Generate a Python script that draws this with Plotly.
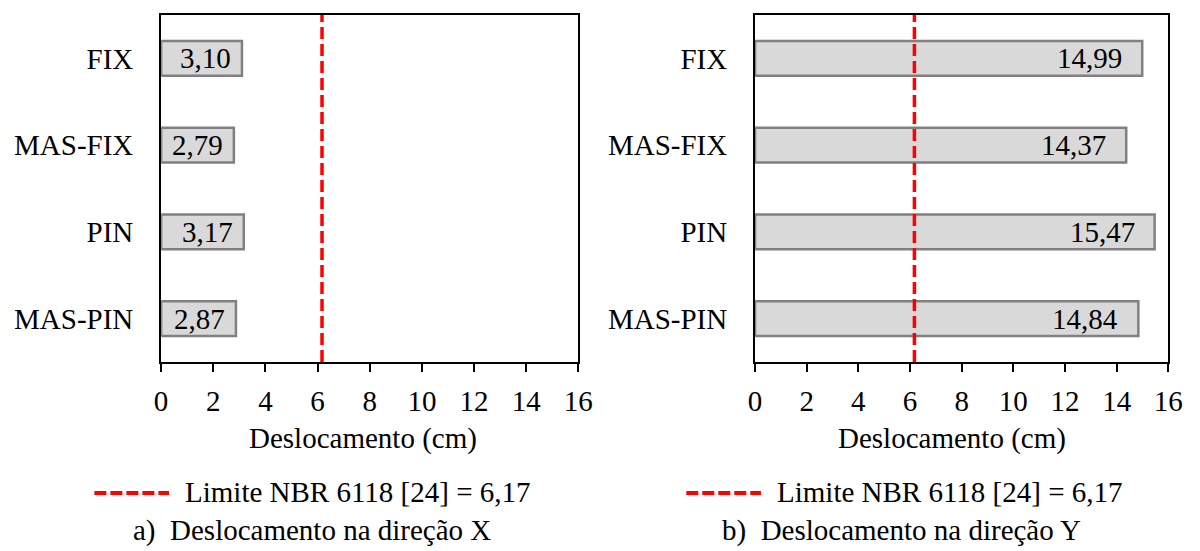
import plotly.graph_objects as go

# Support conditions (top to bottom) and peak displacements in cm
categories = ["FIX", "MAS-FIX", "PIN", "MAS-PIN"]
disp_x = [3.10, 2.79, 3.17, 2.87]
disp_y = [14.99, 14.37, 15.47, 14.84]
limit_value = 6.17
x_tick_values = [0, 2, 4, 6, 8, 10, 12, 14, 16]

axis_title = "Deslocamento (cm)"
limit_label = "Limite NBR 6118 [24] = 6,17"
captions = ["a)\u00a0 Deslocamento na direção X", "b)\u00a0 Deslocamento na direção Y"]

FONT = "Liberation Serif, Times New Roman, serif"
FS = 29
W, H = 1200, 551


def px_x(p):
    return p / W


def px_y(p):
    return 1 - p / H


def br(v):
    return f"{v:.2f}".replace(".", ",")


panels = [
    dict(values=disp_x, xa="x", ya="y", dom=(157, 582), shift=-9,
         title_x=363, legend_x=89, caption_x=311),
    dict(values=disp_y, xa="x2", ya="y2", dom=(762, 1183), shift=-18,
         title_x=963, legend_x=692, caption_x=911),
]

fig = go.Figure()
annotations = []
shapes = []

for p in panels:
    fig.add_trace(go.Bar(
        x=p["values"], y=categories, orientation="h",
        xaxis=p["xa"], yaxis=p["ya"], width=0.4,
        marker=dict(color="#d9d9d9", line=dict(color="#808080", width=2.5)),
        hoverinfo="x+y", showlegend=False,
    ))
    # value labels at the inner end of each bar
    for cat, v in zip(categories, p["values"]):
        annotations.append(dict(
            x=v, y=cat, xref=p["xa"], yref=p["ya"], text=br(v),
            xanchor="right", yanchor="middle", xshift=p["shift"],
            showarrow=False, font=dict(family=FONT, size=FS, color="black"),
        ))
    # code limit line
    shapes.append(dict(
        type="line", xref=p["xa"], yref=f"{p['ya']} domain",
        x0=limit_value, x1=limit_value, y0=0, y1=1,
        line=dict(color="#ff0000", width=3.5, dash="12px,5px"), layer="above",
    ))
    # legend key for the limit line
    shapes.append(dict(
        type="line", xref="paper", yref="paper",
        x0=px_x(p["legend_x"]), x1=px_x(p["legend_x"] + 76),
        y0=px_y(493), y1=px_y(493),
        line=dict(color="#ff0000", width=4, dash="12px,4px"),
    ))
    annotations.append(dict(
        x=px_x(p["legend_x"] + 90), y=px_y(492), xref="paper", yref="paper",
        text=limit_label, xanchor="left", yanchor="middle", showarrow=False,
        font=dict(family=FONT, size=FS, color="black"),
    ))
    annotations.append(dict(
        x=px_x(p["title_x"]), y=px_y(438), xref="paper", yref="paper",
        text=axis_title, xanchor="center", yanchor="middle", showarrow=False,
        font=dict(family=FONT, size=FS, color="black"),
    ))

for cap, p in zip(captions, panels):
    annotations.append(dict(
        x=px_x(p["caption_x"]), y=px_y(530), xref="paper", yref="paper",
        text=cap, xanchor="center", yanchor="middle", showarrow=False,
        font=dict(family=FONT, size=FS, color="black"),
    ))

xaxis_common = dict(
    range=[0, 16], tickmode="array", tickvals=x_tick_values,
    ticktext=[str(t) for t in x_tick_values],
    ticks="outside", ticklen=8, tickwidth=2, tickcolor="black",
    showline=True, linecolor="black", linewidth=2, mirror=True,
    showgrid=False, zeroline=False, ticklabelstandoff=4,
    tickfont=dict(family=FONT, size=FS, color="black"),
    fixedrange=True,
)
yaxis_common = dict(
    type="category", categoryorder="array", categoryarray=categories,
    range=[3.5, -0.5], showline=True, linecolor="black", linewidth=2,
    mirror=True, showgrid=False, zeroline=False, ticks="",
    ticklabelstandoff=20,
    tickfont=dict(family=FONT, size=FS, color="black"),
    fixedrange=True,
)

ydom = [px_y(362), px_y(15)]
fig.update_layout(
    width=W, height=H, autosize=False,
    margin=dict(l=0, r=0, t=0, b=0),
    paper_bgcolor="white", plot_bgcolor="white",
    xaxis=dict(domain=[px_x(157), px_x(582)], anchor="y", **xaxis_common),
    yaxis=dict(domain=ydom, anchor="x", **yaxis_common),
    xaxis2=dict(domain=[px_x(762), px_x(1183)], anchor="y2", **xaxis_common),
    yaxis2=dict(domain=ydom, anchor="x2", **yaxis_common),
    shapes=shapes, annotations=annotations,
    bargap=0.6, showlegend=False,
)

fig.write_html("out.html")
